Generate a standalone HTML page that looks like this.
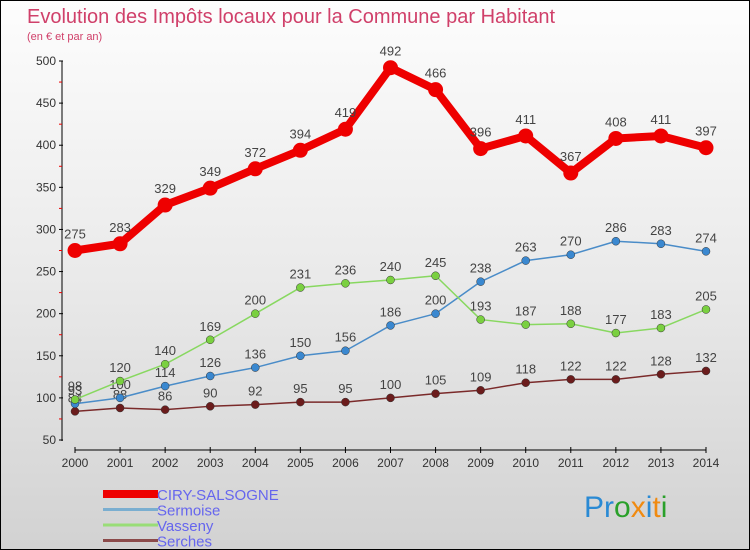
<!DOCTYPE html>
<html><head><meta charset="utf-8">
<style>
html,body{margin:0;padding:0;}
body{width:750px;height:550px;overflow:hidden;font-family:"Liberation Sans",sans-serif;}
#wrap{position:relative;width:748px;height:548px;border:1px solid #000;background:linear-gradient(#fdfdfd 0%,#eaeaea 50%,#d2d2d2 100%);}
</style></head><body>
<div id="wrap">
<svg id="chart" width="748" height="548" style="position:absolute;left:0;top:0" font-family="'Liberation Sans',sans-serif">
<text x="26" y="22" font-size="20" fill="#d0406a">Evolution des Impôts locaux pour la Commune par Habitant</text>
<text x="26" y="39" font-size="11" fill="#d0406a">(en € et par an)</text>
<g id="axes"></g>
<g id="series"></g>
<g id="legend"></g>
<text x="583" y="516" font-size="30"><tspan fill="#2a8ad4">Pr</tspan><tspan fill="#2aa02a">o</tspan><tspan fill="#f08a10">x</tspan><tspan fill="#2a8ad4">i</tspan><tspan fill="#f08a10">t</tspan><tspan fill="#2aa02a">i</tspan></text>
</svg>
</div>
<script>
const years = [2000,2001,2002,2003,2004,2005,2006,2007,2008,2009,2010,2011,2012,2013,2014];
const ciry = [275,283,329,349,372,394,419,492,466,396,411,367,408,411,397];
const sermoise = [93,100,114,126,136,150,156,186,200,238,263,270,286,283,274];
const vasseny = [98,120,140,169,200,231,236,240,245,193,187,188,177,183,205];
const serches = [84,88,86,90,92,95,95,100,105,109,118,122,122,128,132];
const yTicks = [50,100,150,200,250,300,350,400,450,500];

const NS="http://www.w3.org/2000/svg";
function xs(i){return 74+i*(631/14);}
function ys(v){return 439-(v-50)*(379/450);}
function mk(tag,attrs,parent){const e=document.createElementNS(NS,tag);for(const k in attrs)e.setAttribute(k,attrs[k]);parent.appendChild(e);return e;}
const axes=document.getElementById('axes');
let a=mk('line',{x1:61,y1:60,x2:61,y2:440,stroke:'#000','stroke-width':1},axes);


yTicks.forEach(t=>{
  const l=mk('line',{x1:58,y1:ys(t),x2:62,y2:ys(t),stroke:'#000'},axes);
  
  
  const m=mk('line',{x1:58,y1:ys(t+25),x2:61,y2:ys(t+25),stroke:'#e00'},axes);
  if(t===500)m.remove();
  const tx=mk('text',{x:55,y:ys(t)+4,'text-anchor':'end','font-size':12,fill:'#333'},axes);
  tx.textContent=t;
  
  
});
a=mk('line',{x1:xs(0),y1:449,x2:xs(14),y2:449,stroke:'#000'},axes);


years.forEach((y,i)=>{
  mk('line',{x1:xs(i),y1:446,x2:xs(i),y2:452,stroke:'#000'},axes);
  const tx=mk('text',{x:xs(i),y:466,'text-anchor':'middle','font-size':12,fill:'#333'},axes);
  tx.textContent=y;
  
  
});
const ser=document.getElementById('series');
function draw(vals,color,dot,lw,r,name,labelOff){
  const g=mk('g',{},ser);
  
  
  const p=mk('polyline',{points:vals.map((v,i)=>xs(i)+','+ys(v)).join(' '),fill:'none',stroke:color,'stroke-width':lw,'stroke-linejoin':'round'},g);
  
  
  vals.forEach((v,i)=>{
    const c=mk('circle',{cx:xs(i),cy:ys(v),r:r,fill:dot,stroke:r>5?'none':'#333','stroke-width':0.5},g);
    
    
    const t=mk('text',{x:xs(i),y:ys(v)-labelOff,'text-anchor':'middle','font-size':13,fill:'#444'},g);
    t.textContent=v;
    
    
  });
}
draw(serches,'#7a2a2a','#6b1c1c',1.5,4,'serches',9);
draw(sermoise,'#4a8cc8','#3a88d0',1.5,4,'sermoise',9);
draw(vasseny,'#88d860','#7ad040',1.5,4,'vasseny',9);
draw(ciry,'#ee0000','#ee0000',8,7.5,'ciry-salsogne',12);
const leg=document.getElementById('legend');
const items=[['CIRY-SALSOGNE','#ee0000',8],['Sermoise','#7aaed0',3],['Vasseny','#99dd77',3],['Serches','#8b4a4a',3]];
items.forEach((it,i)=>{
  const y=493+i*15.5;
  const g=mk('g',{},leg);
  
  
  mk('line',{x1:102,y1:y,x2:157,y2:y,stroke:it[1],'stroke-width':it[2]},g);
  const t=mk('text',{x:156,y:y+6,'font-size':15,fill:'#6666ee'},g);
  t.textContent=it[0];
});
</script>
</body></html>
